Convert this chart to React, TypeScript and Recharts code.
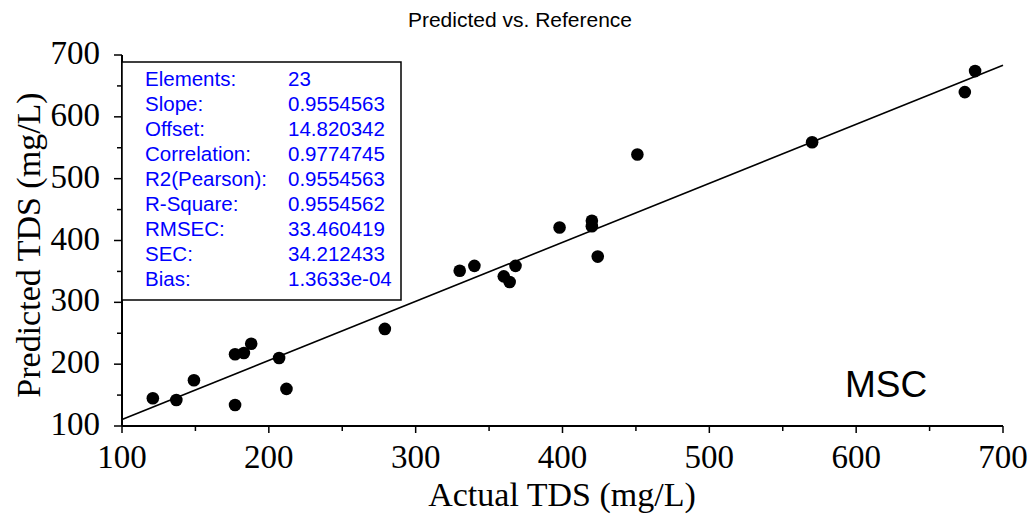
import { ScatterChart, Scatter, XAxis, YAxis } from 'recharts'

const actualTds = [121, 137, 149, 177, 177, 183, 188, 207, 212, 279, 330, 340, 360, 364, 368, 398, 420, 420, 424, 451, 570, 674, 681]
const predictedTds = [145, 142, 174, 134, 216, 218, 233, 210, 160, 257, 351, 359, 342, 333, 359, 421, 432, 423, 374, 539, 559, 640, 674]

// regression line end points (slope 0.9554563, offset 14.820342)
const fitX = [100, 700]
const fitY = [110.4, 683.6]

const axisTicks = [100, 150, 200, 250, 300, 350, 400, 450, 500, 550, 600, 650, 700]

const statLabels = ['Elements:', 'Slope:', 'Offset:', 'Correlation:', 'R2(Pearson):', 'R-Square:', 'RMSEC:', 'SEC:', 'Bias:']
const statValues = ['23', '0.9554563', '14.820342', '0.9774745', '0.9554563', '0.9554562', '33.460419', '34.212433', '1.3633e-04']

const points = actualTds.map((x, i) => ({ x, y: predictedTds[i] }))
const fitLine = fitX.map((x, i) => ({ x, y: fitY[i] }))

const SERIF = '"Liberation Serif", "Times New Roman", serif'
const SANS = '"Liberation Sans", Arial, sans-serif'

const XTick = (props: any) => {
  const { x, y, payload } = props
  const major = payload.value % 100 === 0
  return (
    <g>
      <line x1={x} y1={y} x2={x} y2={y + (major ? 7 : 5)} stroke="#000" strokeWidth={1.5} />
      {major && (
        <text x={x} y={y + 42} textAnchor="middle" fontFamily={SERIF} fontSize={33} fill="#000">
          {payload.value}
        </text>
      )}
    </g>
  )
}

const YTick = (props: any) => {
  const { x, y, payload } = props
  const major = payload.value % 100 === 0
  return (
    <g>
      <line x1={x - (major ? 8 : 5)} y1={y} x2={x} y2={y} stroke="#000" strokeWidth={1.5} />
      {major && (
        <text x={x - 22} y={y + 9} textAnchor="end" fontFamily={SERIF} fontSize={33} fill="#000">
          {payload.value}
        </text>
      )}
    </g>
  )
}

const Dot = (props: any) => <circle cx={props.cx} cy={props.cy} r={6.3} fill="#000" />
const NoDot = () => <g />

export default function App() {
  return (
    <div style={{ position: 'absolute', left: 0, top: 0, width: 1035, height: 523, background: '#fff' }}>
      <ScatterChart width={1035} height={523} margin={{ top: 55, right: 32, left: 0, bottom: 0 }}>
        <XAxis
          type="number"
          dataKey="x"
          domain={[100, 700]}
          ticks={axisTicks}
          interval={0}
          tick={<XTick />}
          tickSize={0}
          tickMargin={0}
          tickLine={false}
          axisLine={{ stroke: '#000', strokeWidth: 2 }}
          height={97}
        />
        <YAxis
          type="number"
          dataKey="y"
          domain={[100, 700]}
          ticks={axisTicks}
          interval={0}
          tick={<YTick />}
          tickSize={0}
          tickMargin={0}
          tickLine={false}
          axisLine={{ stroke: '#000', strokeWidth: 2 }}
          width={122}
        />
        <Scatter data={fitLine} line={{ stroke: '#000', strokeWidth: 1.6 }} shape={<NoDot />} isAnimationActive={false} />
        <Scatter data={points} shape={<Dot />} isAnimationActive={false} />
      </ScatterChart>
      <svg width={1035} height={523} style={{ position: 'absolute', left: 0, top: 0, pointerEvents: 'none' }}>
        <text x={520} y={27} textAnchor="middle" fontFamily={SANS} fontSize={21} fill="#000">
          Predicted vs. Reference
        </text>
        <rect x={122} y={62} width={279} height={238} fill="#fff" stroke="#000" strokeWidth={1.5} />
        {statLabels.map((label, i) => (
          <g key={label}>
            <text x={145} y={86 + i * 25} fontFamily={SANS} fontSize={20.5} fill="#0000ff">{label}</text>
            <text x={288} y={86 + i * 25} fontFamily={SANS} fontSize={20.5} fill="#0000ff">{statValues[i]}</text>
          </g>
        ))}
        <text x={845} y={397} fontFamily={SANS} fontSize={37} fill="#000">MSC</text>
        <text x={562} y={506} textAnchor="middle" fontFamily={SERIF} fontSize={34} fill="#000">
          Actual TDS (mg/L)
        </text>
        <text x={40} y={245} textAnchor="middle" fontFamily={SERIF} fontSize={34} fill="#000" transform="rotate(-90 40 245)">
          Predicted TDS (mg/L)
        </text>
      </svg>
    </div>
  )
}
